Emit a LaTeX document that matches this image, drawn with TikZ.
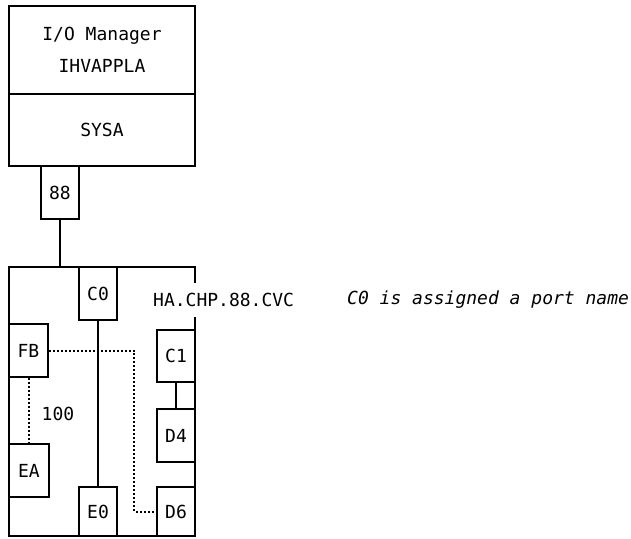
\documentclass[tikz,border=0pt]{standalone}
\usepackage{fontspec}
\setmainfont{DejaVu Sans Mono}
\begin{document}
\begin{tikzpicture}[x=1pt,y=-1pt,
  box/.style={draw,line width=1.8pt,inner sep=0pt,font=\fontsize{18}{32}\selectfont},
  lbl/.style={inner sep=0pt,font=\fontsize{18}{22}\selectfont},
  solidline/.style={line width=1.8pt},
  dotline/.style={line width=2pt,dash pattern=on 2pt off 2pt}]
\useasboundingbox (0,0) rectangle (631,538);
% top boxes
\node[box,minimum width=186pt,minimum height=88pt,align=center] (iom) at (102,50) {I/O Manager\\IHVAPPLA};
\node[box,minimum width=186pt,minimum height=72pt] (sysa) at (102,130) {SYSA};
\node[box,minimum width=38pt,minimum height=53pt] (p88) at (60,192.5) {88};
% big box
\node[box,minimum width=186pt,minimum height=269pt] (big) at (102,401.5) {};
\draw[solidline] (p88.south) -- (p88.south |- big.north);
% label over right edge
\node[lbl,fill=white,anchor=west,minimum height=34pt] (hachp) at (153,300) {HA.CHP.88.CVC};
\node[lbl,anchor=west] (note) at (347,300) {\itshape C0 is assigned a port name};
% inner boxes
\node[box,minimum width=38pt,minimum height=53pt] (c0) at (98,293.5) {C0};
\node[box,minimum width=39pt,minimum height=53pt] (fb) at (28.5,350.5) {FB};
\node[box,minimum width=38pt,minimum height=52pt] (c1) at (176,356) {C1};
\node[box,minimum width=38pt,minimum height=53pt] (d4) at (176,435.5) {D4};
\node[box,minimum width=40pt,minimum height=53pt] (ea) at (29,470.5) {EA};
\node[box,minimum width=38pt,minimum height=49pt] (e0) at (98,511.5) {E0};
\node[box,minimum width=38pt,minimum height=49pt] (d6) at (176,511.5) {D6};
\node[lbl] (n100) at (58,414) {100};
% connectors
\draw[solidline] (c0.south) -- (e0.north);
\draw[solidline] (c1.south) -- (d4.north);
\draw[dotline] (fb.east) -- (134,350.5) |- (d6.west);
\draw[dotline] (fb.south) -- (ea.north -| fb.south);
\end{tikzpicture}
\end{document}
